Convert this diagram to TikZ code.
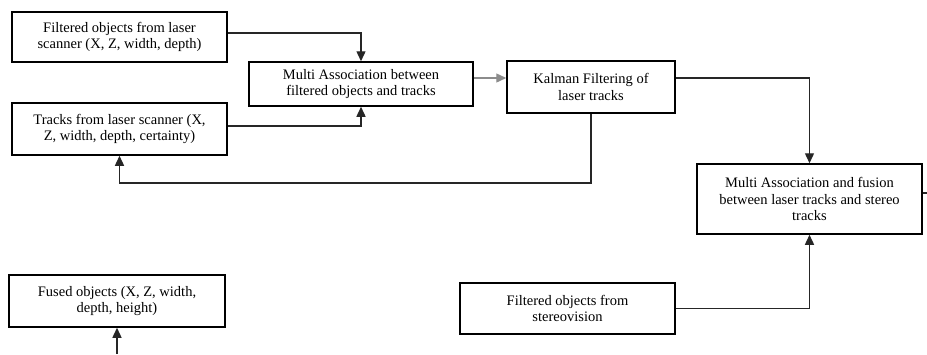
\documentclass[tikz,border=0pt]{standalone}
\usepackage{fontspec}
\setmainfont{Liberation Serif}
\usetikzlibrary{arrows.meta}
\begin{document}
\begin{tikzpicture}[x=1pt,y=-1pt,
  blk/.style={draw=black, line width=1.5pt, fill=white, align=center, inner sep=2pt,
    font=\fontsize{14.5}{16.5}\selectfont},
  conn/.style={line width=1.4pt, draw=black!85},
  arr/.style={conn, -{Triangle[length=10pt,width=9pt]}}]
\useasboundingbox (0,0) rectangle (927,354);
\node[blk, minimum width=215pt, minimum height=50pt] (b1) at (119.5,37) {Filtered objects from laser\\scanner (X, Z, width, depth)};
\node[blk, minimum width=215pt, minimum height=52pt] (b2) at (119.5,129) {Tracks from laser scanner (X,\\Z, width, depth, certainty)};
\node[blk, minimum width=224pt, minimum height=44pt] (b3) at (361,84) {Multi Association between\\filtered objects and tracks};
\node[blk, minimum width=168pt, minimum height=52pt] (b4) at (591,87) {Kalman Filtering of\\laser tracks};
\node[blk, minimum width=225pt, minimum height=70pt] (b5) at (809.5,199) {Multi Association and fusion\\between laser tracks and stereo\\tracks};
\node[blk, minimum width=216pt, minimum height=52pt] (b6) at (117,301) {Fused objects (X, Z, width,\\depth, height)};
\node[blk, minimum width=215pt, minimum height=51pt] (b7) at (567.5,308.5) {Filtered objects from\\stereovision};
\coordinate (fbk) at (0,183);
\coordinate (out) at (927,193);
\coordinate (in) at (117,354);
\draw[arr] ([yshift=4pt]b1.east) -| (b3.north);
\draw[arr] ([yshift=3pt]b2.east) -| (b3.south);
\draw[arr, draw=black!45] ([yshift=6pt]b3.east) -- ([yshift=6pt]b3.east -| b4.west);
\draw[arr] ([yshift=9pt]b4.east) -| (b5.north);
\draw[arr] (b4.south) -- (b4.south |- fbk) -| (b2.south);
\draw[arr] (b7.east) -| (b5.south);
\draw[conn] ([yshift=6pt]b5.east) -- ([yshift=6pt]b5.east -| out);
\draw[arr] (in) -- (b6.south);
\end{tikzpicture}
\end{document}
